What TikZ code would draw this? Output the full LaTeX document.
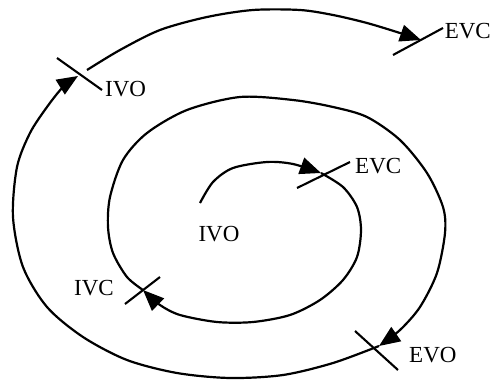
\documentclass[tikz,border=0pt]{standalone}
\usepackage{fontspec}
\setmainfont{Liberation Serif}
\usetikzlibrary{arrows.meta}
\begin{document}
\begin{tikzpicture}[x=1pt,y=-1pt,
  curve/.style={line width=2.2pt, line join=round},
  arr/.style={curve, -{Triangle[length=21pt,width=17pt]}},
  tickline/.style={line width=2.1pt},
  lbl/.style={font=\fontsize{23}{25}\selectfont, inner sep=0pt}]
\useasboundingbox (0,0) rectangle (492,380);
% crossing points
\coordinate (start) at (200,203);
\coordinate (evcA) at (321,173);
\coordinate (ivcB) at (143,290);
\coordinate (evoC) at (379,346);
\coordinate (ivoD) at (78,76);
\coordinate (resume) at (87,70);
\coordinate (evcE) at (421,40);
% tick ends
\coordinate (tA1) at (297,188); \coordinate (tA2) at (350,162);
\coordinate (tB1) at (125,304); \coordinate (tB2) at (160,277);
\coordinate (tC1) at (355,331); \coordinate (tC2) at (398,370);
\coordinate (tD1) at (57,58);   \coordinate (tD2) at (102,90);
\coordinate (tE1) at (393,55);  \coordinate (tE2) at (443,28);
% spiral
\draw[arr] plot[smooth] coordinates {(start) (213,182) (233,168) (267,162) (293,164) (evcA)};
\draw[arr] plot[smooth] coordinates {(evcA) (343,187) (357,207) (361,230) (357,257) (343,280) (320,300) (290,315) (253,322) (217,322) (180,315) (160,305) (ivcB)};
\draw[arr] plot[smooth] coordinates {(ivcB) (127,277) (113,253) (108,227) (110,197) (123,160) (147,133) (187,110) (240,97) (293,100) (333,107) (367,117) (400,140) (427,173) (443,207) (445,233) (437,273) (420,307) (400,330) (evoC)};
\draw[arr] plot[smooth] coordinates {(evoC) (333,363) (283,375) (230,378) (177,373) (127,360) (83,337) (47,307) (23,267) (13,217) (17,167) (30,133) (47,107) (63,87) (ivoD)};
\draw[arr] plot[smooth] coordinates {(resume) (120,50) (160,30) (207,17) (253,10) (300,10) (333,15) (367,23) (400,33) (evcE)};
% ticks
\draw[tickline] (tA1) -- (tA2);
\draw[tickline] (tB1) -- (tB2);
\draw[tickline] (tC1) -- (tC2);
\draw[tickline] (tD1) -- (tD2);
\draw[tickline] (tE1) -- (tE2);
% labels
\node[lbl, anchor=center] (l0) at (219,234) {IVO};
\node[lbl, anchor=west] (lA) at (355,166) {EVC};
\node[lbl, anchor=east] (lB) at (114,288) {IVC};
\node[lbl, anchor=west] (lC) at (409,355) {EVO};
\node[lbl, anchor=west] (lD) at (105,89) {IVO};
\node[lbl, anchor=east] (lE) at (491,31) {EVC};
\end{tikzpicture}
\end{document}
